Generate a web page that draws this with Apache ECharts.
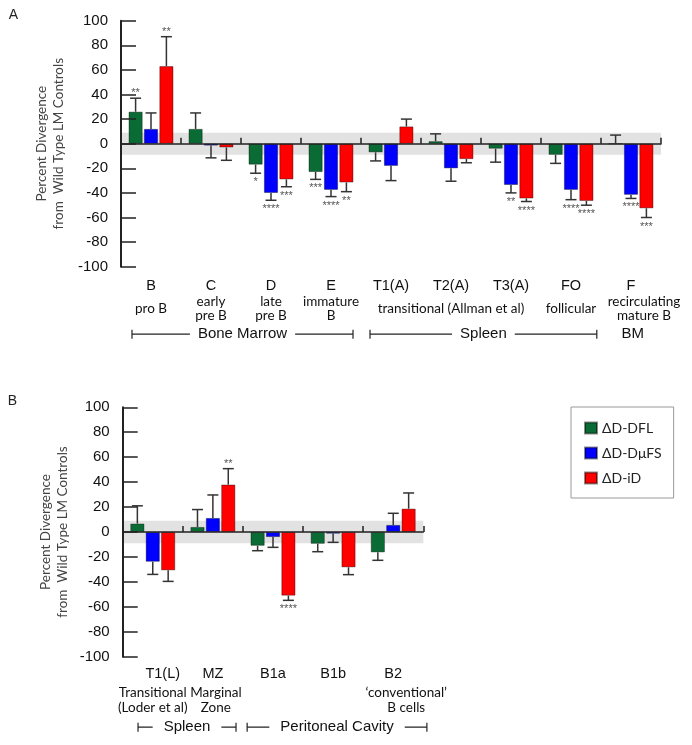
<!DOCTYPE html>
<html><head><meta charset="utf-8">
<script src="https://cdn.jsdelivr.net/npm/echarts@6/dist/echarts.min.js"></script>
<style>html,body{margin:0;padding:0;background:#fff}#c{width:692px;height:745px}</style>
</head><body><div id="c"></div>
<script>
// ---------- DATA ----------
const seriesNames = ['\u0394D-DFL', '\u0394D-D\u03bcFS', '\u0394D-iD'];

const catsA = ['B', 'C', 'D', 'E', 'T1(A)', 'T2(A)', 'T3(A)', 'FO', 'F'];
const subsA = ['pro B', 'early\npre B', 'late\npre B', 'immature\nB', '', 'transitional (Allman et al)', '', 'follicular', 'recirculating\nmature B'];
const dflA      = [26, 12, -17, -23, -7, 2, -4, -9, 0];
const dflErrA   = [37, 25, -24, -29, -14, 8, -15, -16, 7];
const dflStarsA = ['**', '', '*', '***', '', '', '', '', ''];
const dmuA      = [12, -1.5, -40, -37.5, -18, -20, -33.5, -37.5, -41.5];
const dmuErrA   = [25, -11.5, -46, -43, -30, -30.5, -40, -45.5, -44.5];
const dmuStarsA = ['', '', '****', '****', '', '', '**', '****', '****'];
const idA       = [63, -3, -29, -31.5, 14, -12.5, -44.5, -46.5, -52.5];
const idErrA    = [87, -13.5, -35, -39, 20, -15.5, -47, -50, -60];
const idStarsA  = ['**', '', '***', '**', '', '', '****', '****', '***'];

const catsB = ['T1(L)', 'MZ', 'B1a', 'B1b', 'B2'];
const subsB = ['Transitional\n(Loder et al)', 'Marginal\nZone', '', '', '\u2018conventional\u2019\nB cells'];
const dflB      = [6.7, 4, -11, -9.4, -16.3];
const dflErrB   = [21, 18, -15, -15.8, -22.7];
const dflStarsB = ['', '', '', '', ''];
const dmuB      = [-23.8, 11.2, -4, -1.3, 5.6];
const dmuErrB   = [-34, 29.7, -12.3, -8.3, 15];
const dmuStarsB = ['', '', '', '', ''];
const idB       = [-30.7, 38, -51, -28.3, 18.7];
const idErrB    = [-39.6, 50.8, -54.8, -34.2, 31.3];
const idStarsB  = ['', '**', '****', '', ''];

const yTicks = { min: -100, max: 100, interval: 20 };
const bandHalf = 9;

const bracketsA = [{ text: 'Bone Marrow', from: 0.183, to: 3.867 }, { text: 'Spleen', from: 4.15, to: 7.93 }];
const bracketsB = [{ text: 'Spleen', from: 0.255, to: 1.885 }, { text: 'Peritoneal Cavity', from: 2.07, to: 5.06 }];
const plainTextA = [{ text: 'BM', at: 8.53 }];

// ---------- STYLE ----------
const colors = ['#0b6b35', '#0000ff', '#ff0000'];
const SANS = "'Liberation Sans', Arial, sans-serif";
const HUM = "Lato, 'Open Sans', sans-serif";
const BAR_W = 14, BAR_GAP = 1.4, CAP = 5.5;
const subOffsetA = { 8: 26 };
const nameOffsetB = { 0: 20 };
const subOffsetB = { 4: 26, 1: 6 };

const chart = echarts.init(document.getElementById('c'), null, { renderer: 'canvas' });

function yAxisCfg(gi) {
  return {
    gridIndex: gi, type: 'value', min: yTicks.min, max: yTicks.max, interval: yTicks.interval, z: 3,
    axisLine: { show: true, lineStyle: { color: '#222', width: 2 } },
    axisTick: { show: true, inside: true, length: 15, lineStyle: { color: '#222', width: 1.5 } },
    splitLine: { show: false },
    axisLabel: { fontSize: 15, color: '#111', fontFamily: SANS, margin: 13, padding: [8, 0, 0, 0] },
    name: 'Percent Divergence\nfrom  Wild Type LM Controls',
    nameLocation: 'middle', nameRotate: 90, nameGap: 52,
    nameTextStyle: { fontSize: 13.5, lineHeight: 17, color: '#444', fontFamily: HUM }
  };
}

function wrapOffset(text, pad) {
  return text.split('\n').map(l => '{o' + pad + '|' + l + '}').join('\n');
}

function xAxes(gi, cats, subs, nameMargin, subMargin, subLH, nameOff, subOff) {
  const richFor = (offs, fs, ff, lh) => {
    const r = {};
    Object.values(offs).forEach(p => { r['o' + p] = { padding: [0, 0, 0, p], fontSize: fs, fontFamily: ff, color: '#111', lineHeight: lh }; });
    return r;
  };
  return [
    {
      gridIndex: gi, type: 'category', data: cats, position: 'bottom', z: 3,
      axisLine: { onZero: true, lineStyle: { color: '#222', width: 1.5 } },
      axisTick: { show: true, inside: true, length: 6, lineStyle: { color: '#222', width: 1.5 } },
      axisLabel: { show: false }
    },
    {
      gridIndex: gi, type: 'category', data: cats, position: 'bottom',
      axisLine: { show: false, onZero: false }, axisTick: { show: false },
      axisLabel: {
        interval: 0, margin: nameMargin, verticalAlign: 'middle', fontSize: 14.5, fontFamily: SANS, color: '#111',
        formatter: (v, i) => nameOff[i] ? wrapOffset(v, nameOff[i]) : v,
        rich: richFor(nameOff, 14.5, SANS, 18)
      }
    },
    {
      gridIndex: gi, type: 'category', data: subs, position: 'bottom',
      axisLine: { show: false, onZero: false }, axisTick: { show: false },
      axisLabel: {
        interval: 0, margin: subMargin, verticalAlign: 'middle', fontSize: 13.5, lineHeight: subLH, fontFamily: HUM, color: '#111',
        formatter: (v, i) => subOff[i] ? wrapOffset(v, subOff[i]) : v,
        rich: richFor(subOff, 13.5, HUM, subLH)
      }
    }
  ];
}

function barSeries(k, vals, xi, yi) {
  return {
    name: seriesNames[k], type: 'bar', xAxisIndex: xi, yAxisIndex: yi, z: 2,
    barWidth: BAR_W, barGap: '10%', data: vals,
    itemStyle: { color: colors[k], borderColor: 'rgba(0,0,0,0.45)', borderWidth: 0.8 }
  };
}

function errSeries(k, vals, errs, stars, xi, yi) {
  return {
    type: 'custom', xAxisIndex: xi, yAxisIndex: yi, z: 4, silent: true,
    data: vals.map((v, i) => [i, v, errs[i]]),
    encode: { x: 0, y: [1, 2] },
    renderItem: (params, api) => {
      const i = api.value(0), v = api.value(1), e = api.value(2);
      const st = stars[params.dataIndex];
      const p0 = api.coord([i, v]), p1 = api.coord([i, e]);
      const x = p0[0] + (k - 1) * (BAR_W + BAR_GAP);
      const up = e >= v;
      const ch = [
        { type: 'line', shape: { x1: x, y1: p0[1], x2: x, y2: p1[1] }, style: { stroke: '#333', lineWidth: 1.5 } },
        { type: 'line', shape: { x1: x - CAP, y1: p1[1], x2: x + CAP, y2: p1[1] }, style: { stroke: '#333', lineWidth: 1.5 } }
      ];
      if (st) ch.push({
        type: 'text', style: {
          text: st, x: x, y: up ? p1[1] - 5 : p1[1] + 9, align: 'center', verticalAlign: 'middle',
          fontSize: 11, fontFamily: SANS, fill: '#555'
        }
      });
      return { type: 'group', children: ch };
    }
  };
}

function bandSeries(xi, yi) {
  return {
    type: 'line', xAxisIndex: xi, yAxisIndex: yi, z: 1, data: [], silent: true,
    markArea: { silent: true, itemStyle: { color: '#e2e2e2' }, data: [[{ yAxis: bandHalf }, { yAxis: -bandHalf }]] }
  };
}

const option = {
  animation: false,
  backgroundColor: '#fff',
  grid: [
    { left: 121, top: 20.7, width: 540, height: 246 },
    { left: 122.7, top: 407.3, width: 300.6, height: 249.4 }
  ],
  xAxis: [
    ...xAxes(0, catsA, subsA, 19, 41.5, 14, {}, subOffsetA),
    ...xAxes(1, catsB, subsB, 17.3, 43.6, 15.3, nameOffsetB, subOffsetB)
  ],
  yAxis: [yAxisCfg(0), yAxisCfg(1)],
  legend: {
    data: seriesNames, orient: 'vertical', left: 571, top: 407,
    itemWidth: 12, itemHeight: 11, itemGap: 11, icon: 'rect',
    padding: [14, 12, 13, 13], borderColor: '#999', borderWidth: 1,
    textStyle: { fontSize: 14, fontFamily: HUM, color: '#222' }
  },
  series: [
    bandSeries(0, 0),
    barSeries(0, dflA, 0, 0), barSeries(1, dmuA, 0, 0), barSeries(2, idA, 0, 0),
    errSeries(0, dflA, dflErrA, dflStarsA, 0, 0), errSeries(1, dmuA, dmuErrA, dmuStarsA, 0, 0), errSeries(2, idA, idErrA, idStarsA, 0, 0),
    bandSeries(3, 1),
    barSeries(0, dflB, 3, 1), barSeries(1, dmuB, 3, 1), barSeries(2, idB, 3, 1),
    errSeries(0, dflB, dflErrB, dflStarsB, 3, 1), errSeries(1, dmuB, dmuErrB, dmuStarsB, 3, 1), errSeries(2, idB, idErrB, idStarsB, 3, 1)
  ]
};
chart.setOption(option);

// ---------- brackets & panel letters ----------
function catPx(xi, p) {
  const c0 = chart.convertToPixel({ xAxisIndex: xi }, 0);
  const c1 = chart.convertToPixel({ xAxisIndex: xi }, 1);
  const step = c1 - c0;
  return c0 + (p - 0.5) * step;
}
function bracket(b, xi, y, pad) {
  const x1 = catPx(xi, b.from), x2 = catPx(xi, b.to);
  return {
    type: 'group', children: [
      { type: 'line', shape: { x1, y1: y, x2, y2: y }, style: { stroke: '#222', lineWidth: 1.2 } },
      { type: 'line', shape: { x1, y1: y - 4.5, x2: x1, y2: y + 4.5 }, style: { stroke: '#222', lineWidth: 1.2 } },
      { type: 'line', shape: { x1: x2, y1: y - 4.5, x2: x2, y2: y + 4.5 }, style: { stroke: '#222', lineWidth: 1.2 } },
      { type: 'text', z: 10, style: { text: b.text, x: (x1 + x2) / 2, y, align: 'center', verticalAlign: 'middle', fontSize: 15, fontFamily: SANS, fill: '#111', backgroundColor: '#fff', padding: [0, pad] } }
    ]
  };
}
const yBrA = chart.convertToPixel({ yAxisIndex: 0 }, yTicks.min) + 67.5;
const yBrB = chart.convertToPixel({ yAxisIndex: 1 }, yTicks.min) + 70.5;
const graphics = [
  { type: 'text', style: { text: 'A', x: 13.3, y: 15, align: 'center', verticalAlign: 'middle', fontSize: 14, fontFamily: SANS, fill: '#222' } },
  { type: 'text', style: { text: 'B', x: 12.5, y: 401, align: 'center', verticalAlign: 'middle', fontSize: 14, fontFamily: SANS, fill: '#222' } },
  ...bracketsA.map(b => bracket(b, 0, yBrA, 8)),
  ...bracketsB.map(b => bracket(b, 3, yBrB, 11)),
  ...plainTextA.map(t => ({ type: 'text', style: { text: t.text, x: catPx(0, t.at), y: yBrA, align: 'center', verticalAlign: 'middle', fontSize: 15, fontFamily: SANS, fill: '#111' } }))
];
chart.setOption({ graphic: graphics });
</script>
</body></html>
